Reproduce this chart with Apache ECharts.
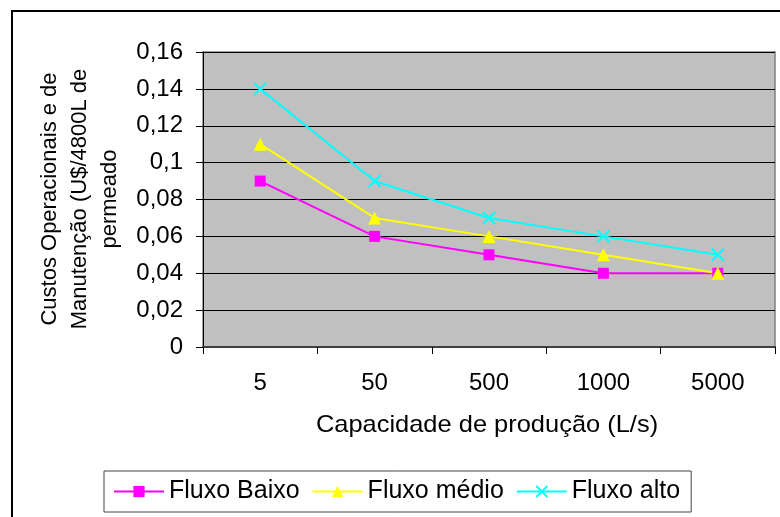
<!DOCTYPE html>
<html>
<head>
<meta charset="utf-8">
<script src="https://cdn.jsdelivr.net/npm/echarts@6/dist/echarts.min.js"></script>
<style>
html,body{margin:0;padding:0;background:#fff;}
#chart{width:780px;height:517px;}
</style>
</head>
<body>
<div id="chart"></div>
<script>
const categories = ['5', '50', '500', '1000', '5000'];
const fluxoBaixo = [0.09, 0.06, 0.05, 0.04, 0.04];
const fluxoMedio = [0.11, 0.07, 0.06, 0.05, 0.04];
const fluxoAlto = [0.14, 0.09, 0.07, 0.06, 0.05];
const seriesNames = ['Fluxo Baixo', 'Fluxo médio', 'Fluxo alto'];
const xTitle = 'Capacidade de produção (L/s)';
const yTitle = 'Custos Operacionais e de\nManutenção (U$/4800L de\npermeado';

const FONT = '"Liberation Sans", Arial, sans-serif';
const chart = echarts.init(document.getElementById('chart'), null, {renderer: 'canvas'});

const fmt = v => parseFloat(Number(v).toFixed(2)).toString().replace('.', ',');

chart.setOption({
  backgroundColor: '#ffffff',
  animation: false,
  textStyle: {fontFamily: FONT},
  grid: {
    left: 203, top: 52, right: 5, bottom: 170,
    show: true, backgroundColor: '#C0C0C0', borderColor: '#808080', borderWidth: 1.5
  },
  xAxis: {
    type: 'category',
    data: categories,
    boundaryGap: true,
    axisLine: {show: true, lineStyle: {color: '#404040', width: 2}},
    axisTick: {show: true, alignWithLabel: false, length: 7, lineStyle: {color: '#000', width: 1}},
    axisLabel: {color: '#000', fontSize: 24, fontFamily: FONT, margin: 24},
    splitLine: {show: false}
  },
  yAxis: {
    type: 'value',
    min: 0, max: 0.16, interval: 0.02,
    axisLine: {show: true, lineStyle: {color: '#000', width: 1}},
    axisTick: {show: true, length: 7, lineStyle: {color: '#000', width: 1}},
    axisLabel: {color: '#000', fontSize: 24, fontFamily: FONT, margin: 20, formatter: fmt},
    splitLine: {show: true, lineStyle: {color: '#000', width: 1}}
  },
  legend: {
    left: 104, top: 471,
    orient: 'horizontal',
    backgroundColor: '#fff',
    borderColor: '#444', borderWidth: 1,
    padding: [8, 11, 8, 9],
    itemGap: 12,
    itemWidth: 50, itemHeight: 14,
    textStyle: {color: '#000', fontSize: 25, fontFamily: FONT},
    data: seriesNames
  },
  series: [
    {
      name: seriesNames[0], type: 'line', data: fluxoBaixo,
      symbol: 'rect', symbolSize: 11,
      lineStyle: {color: '#FF00FF', width: 2},
      itemStyle: {color: '#FF00FF'}
    },
    {
      name: seriesNames[1], type: 'line', data: fluxoMedio,
      symbol: 'triangle', symbolSize: 13,
      lineStyle: {color: '#FFFF00', width: 2},
      itemStyle: {color: '#FFFF00'}
    },
    {
      name: seriesNames[2], type: 'line', data: fluxoAlto,
      symbol: 'path://M0,0L10,10M10,0L0,10', symbolSize: 12,
      lineStyle: {color: '#00FFFF', width: 2},
      itemStyle: {color: 'rgba(0,0,0,0)', borderColor: '#00FFFF', borderWidth: 2}
    }
  ],
  graphic: [
    {
      type: 'rect', z: 100, silent: true,
      shape: {x: 12, y: 11, width: 800, height: 600},
      style: {fill: 'none', stroke: '#000', lineWidth: 2}
    },
    {
      type: 'text', z: 100,
      x: 487, y: 425, scaleX: 1.06,
      style: {text: xTitle, fill: '#000', font: '24px ' + FONT, textAlign: 'center', textVerticalAlign: 'middle'}
    },
    {
      type: 'text', z: 100,
      x: 80, y: 199, rotation: Math.PI / 2,
      style: {text: yTitle, fill: '#000', font: '22px ' + FONT, textAlign: 'center', textVerticalAlign: 'middle', lineHeight: 30}
    }
  ]
});
</script>
</body>
</html>
